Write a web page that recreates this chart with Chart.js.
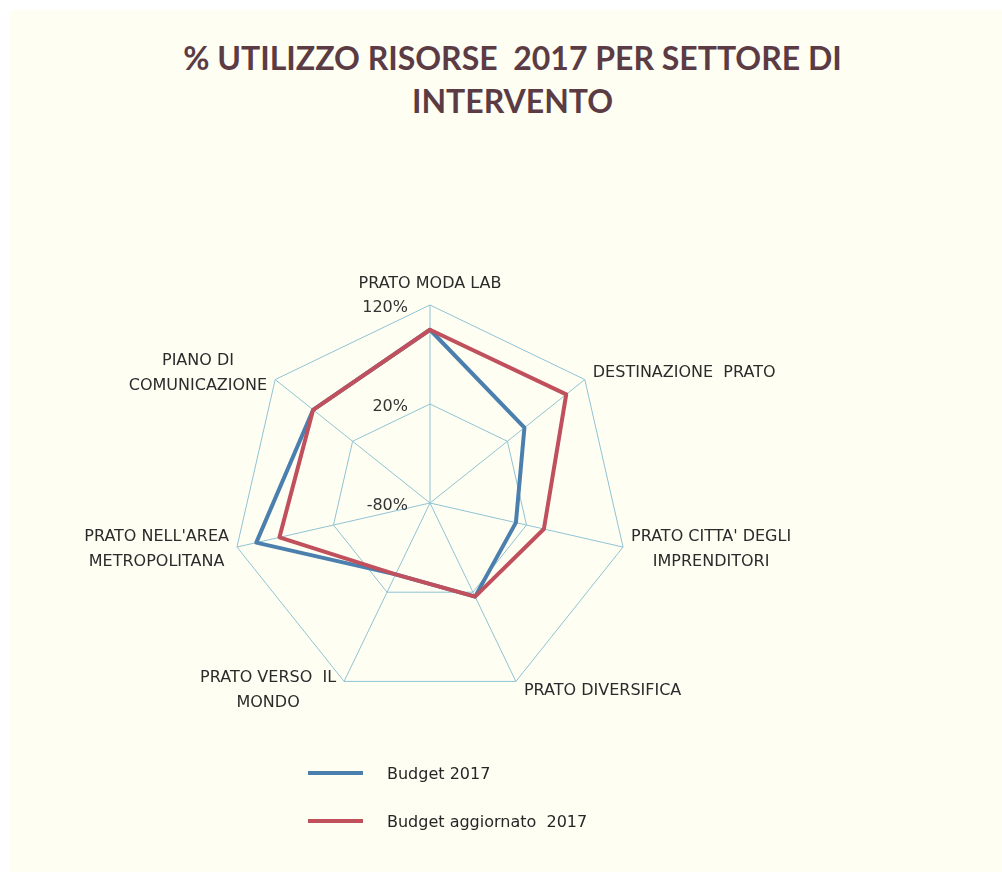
<!DOCTYPE html>
<html>
<head>
<meta charset="utf-8">
<script src="https://cdn.jsdelivr.net/npm/chart.js@4.4.0/dist/chart.umd.min.js"></script>
<style>
  body { margin: 0; background: #fff; }
  #wrap { position: absolute; left: 9px; top: 10px; width: 993px; height: 862px; background: #fffef3; overflow: hidden; }
  #wrap canvas { position: absolute; left: 0; top: 0; }
  #title { position: absolute; left: 7px; top: 26px; width: 993px; text-align: center; white-space: pre;
           font: bold 32px/43px "Lato"; color: #5c3c44; }
  .legend-item { position: absolute; left: 299px; height: 20px; display: flex; align-items: center;
                 font: 16px "DejaVu Sans"; color: #262626; white-space: pre; }
  .legend-line { width: 55px; height: 4px; margin-right: 24px; }
</style>
</head>
<body>
<div id="wrap">
  <div id="title"></div>
  <canvas id="radar" width="993" height="862"></canvas>
  <div id="legend"></div>
</div>
<script>
const titleLines = ["% UTILIZZO RISORSE  2017 PER SETTORE DI", "INTERVENTO"];

const sectors = [
  "PRATO MODA LAB",
  "DESTINAZIONE  PRATO",
  ["PRATO CITTA' DEGLI", "IMPRENDITORI"],
  "PRATO DIVERSIFICA",
  ["PRATO VERSO  IL", "MONDO"],
  ["PRATO NELL'AREA", "METROPOLITANA"],
  ["PIANO DI", "COMUNICAZIONE"]
];

// valori in %
const budget2017 = [95, 42, 9, 25, 0, 100, 71];
const budgetAggiornato2017 = [95, 96, 38, 25, 0, 76, 71];

const seriesNames = ["Budget 2017", "Budget aggiornato  2017"];
const seriesColors = ["#4a7fae", "#c0505c"];

const scaleMin = -80;
const scaleMax = 120;
const scaleStep = 100;

document.getElementById("title").textContent = titleLines.join("\n");

// etichette degli assi e dei tick disegnate a mano (stile Excel)
const radarText = {
  id: "radarText",
  afterDraw(chart) {
    const r = chart.scales.r;
    const ctx = chart.ctx;
    const R = r.drawingArea;
    const n = chart.data.labels.length;
    ctx.save();
    ctx.font = '16px "DejaVu Sans"';
    ctx.fillStyle = "#333";
    ctx.textBaseline = "middle";

    // tick
    ctx.textAlign = "right";
    r.ticks.forEach(t => {
      const p = r.getPointPositionForValue(0, t.value);
      ctx.fillText(t.value + "%", p.x - 22, p.y + 3);
    });

    // categorie
    ctx.textAlign = "center";
    ctx.fillStyle = "#2b2b2b";
    const lh = 25;
    chart.data.labels.forEach((lab, i) => {
      const lines = Array.isArray(lab) ? lab : [lab];
      const v = r.getPointPosition(i, R);
      const a = i * 2 * Math.PI / n;
      const s = Math.sin(a), c = Math.cos(a);
      const bw = Math.max(...lines.map(l => ctx.measureText(l).width));
      const bh = lines.length * lh;
      let cx, cy;
      if (i === 0) {
        cx = v.x;
        cy = v.y - 21;
      } else {
        cx = s > 0 ? v.x + 8 + bw / 2 : v.x - 8 - bw / 2;
        cy = v.y - 10 * c;
      }
      lines.forEach((l, k) => {
        ctx.fillText(l, cx, cy - bh / 2 + lh / 2 + k * lh);
      });
    });
    ctx.restore();
  }
};

const ctx = document.getElementById("radar").getContext("2d");
const chart = new Chart(ctx, {
  type: "radar",
  data: {
    labels: sectors,
    datasets: [
      { label: seriesNames[0], data: budget2017, borderColor: seriesColors[0], backgroundColor: "transparent", order: 1 },
      { label: seriesNames[1], data: budgetAggiornato2017, borderColor: seriesColors[1], backgroundColor: "transparent", order: 0 }
    ]
  },
  options: {
    responsive: false,
    animation: false,
    layout: { padding: { left: 223, right: 374, top: 295, bottom: 171 } },
    elements: {
      line: { borderWidth: 4, tension: 0, fill: false, borderJoinStyle: "round" },
      point: { radius: 0, hoverRadius: 0 }
    },
    plugins: {
      legend: { display: false },
      title: { display: false },
      tooltip: { enabled: false }
    },
    scales: {
      r: {
        min: scaleMin,
        max: scaleMax,
        ticks: { stepSize: scaleStep, display: false },
        grid: { color: "#8fc3d3", lineWidth: 1 },
        angleLines: { color: "#8fc3d3", lineWidth: 1 },
        pointLabels: { display: false }
      }
    }
  },
  plugins: [radarText]
});

// legenda verticale
const legend = document.getElementById("legend");
chart.data.datasets.forEach((ds, i) => {
  const item = document.createElement("div");
  item.className = "legend-item";
  item.style.top = (753 + i * 48) + "px";
  const line = document.createElement("span");
  line.className = "legend-line";
  line.style.background = ds.borderColor;
  item.appendChild(line);
  item.appendChild(document.createTextNode(ds.label));
  legend.appendChild(item);
});
</script>
</body>
</html>
